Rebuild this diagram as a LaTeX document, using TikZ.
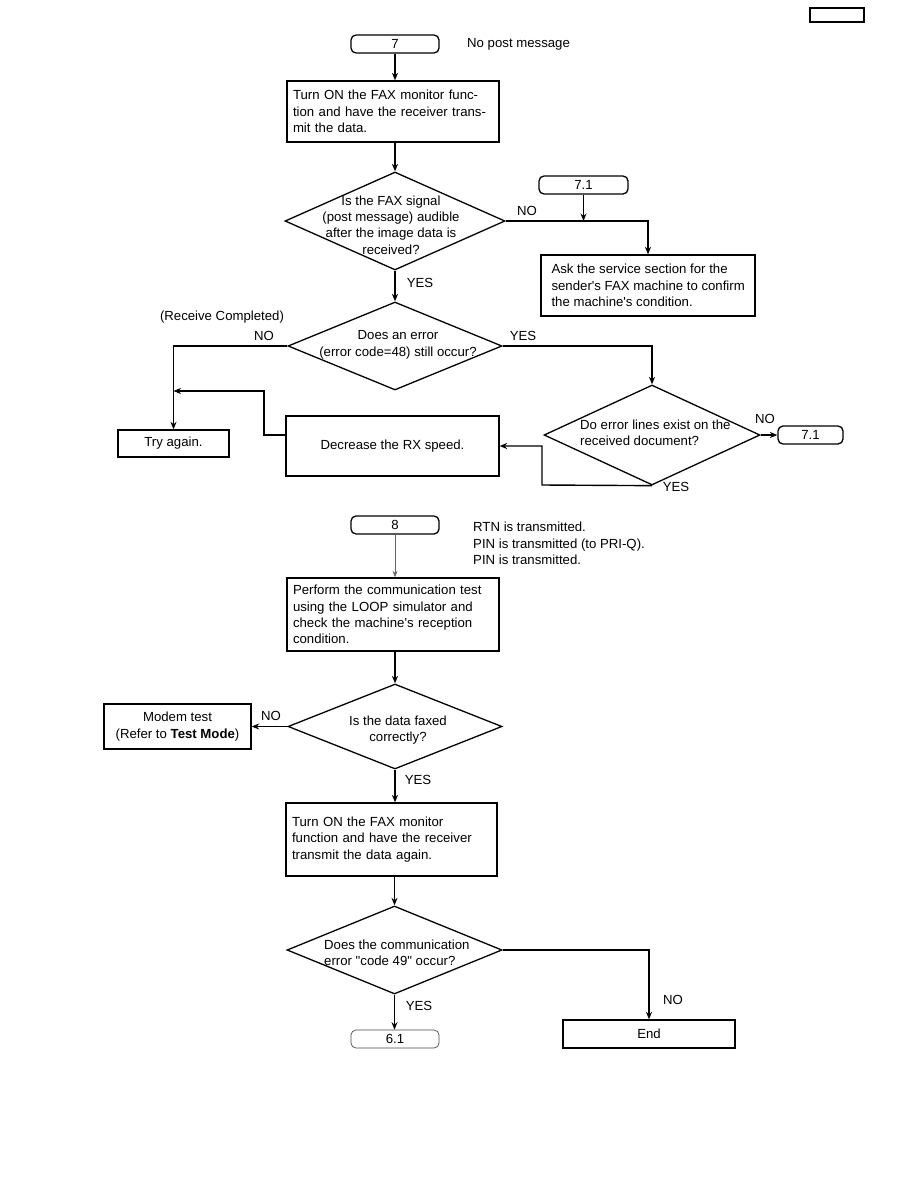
\documentclass[tikz,border=0pt]{standalone}
\usepackage{fontspec}
\setmainfont{Liberation Sans}[Ligatures=TeXOff]
\usetikzlibrary{shapes.geometric,arrows.meta}
\begin{document}
\begin{tikzpicture}[x=1pt,y=-1pt,
  every node/.style={font=\fontsize{13.2}{16.4}\selectfont, inner sep=0pt},
  lbox/.style={draw, line width=1.3pt, inner xsep=6pt, inner ysep=0pt, align=left},
  ebox/.style={draw, line width=1.3pt},
  cbox/.style={draw, line width=1.3pt, align=center},
  term/.style={draw, line width=1.3pt, rounded corners=5pt, minimum height=18pt, minimum width=88pt, align=center},
  dia/.style={draw, line width=1.3pt, diamond, inner sep=0pt},
  tx/.style={align=center},
  lbl/.style={},
  arr/.style={line width=1.4pt, -{Stealth[length=7.5pt,width=6pt]}},
]
\fill[white] (0,0) rectangle (918,1188);
\useasboundingbox (0,0) rectangle (918,1188);

% page box
\node[draw, line width=1.3pt, minimum width=54pt, minimum height=14pt] (pg) at (837,15) {};

% ---------- part 7 ----------
\node[term] (t7) at (395,44) {7};
\node[anchor=west] (np) at (467,44) {No post message};

\node[lbox, minimum height=61pt, text width=200pt] (b1) at (393,111.5)
  {Turn ON the FAX monitor func-\\tion and have the receiver trans-\\mit the data.};

\node[dia, minimum width=220pt, minimum height=98pt] (d1) at (395,221) {};
\node[tx] (d1t) at (391,225) {Is the FAX signal\\(post message) audible\\after the image data is\\received?};

\node[term, minimum width=89pt] (t71a) at (583.5,185) {7.1};
\node[ebox, minimum width=214pt, minimum height=61pt] (ask) at (648,285.5) {};
\node[align=left, anchor=west] (askt) at ([xshift=11pt]ask.west)
  {Ask the service section for the\\sender's FAX machine to confirm\\the machine's condition.};

\node[dia, minimum width=214pt, minimum height=88pt] (d2) at (395,346) {};
\node[tx] (d2t) at (398,345) {Does an error\\(error code=48) still occur?};

\node[cbox, minimum width=111pt, minimum height=27pt] (try) at (173.5,443.5) {Try again.};
\node[cbox, minimum width=213pt, minimum height=60pt] (dec) at (392.5,446) {Decrease the RX speed.};

\node[dia, minimum width=216pt, minimum height=100pt] (d3) at (652,435) {};
\node[tx, align=left, anchor=west] (d3t) at (580,433) {Do error lines exist on the\\received document?};
\node[term, minimum width=65pt] (t71b) at (810.5,435) {7.1};

\node[lbl] (l1) at (527,211) {NO};
\node[lbl] (l2) at (420,283) {YES};
\node[lbl] (l3) at (222,317) {(Receive Completed)};
\node[lbl] (l4) at (264,336) {NO};
\node[lbl] (l5) at (523,336) {YES};
\node[lbl] (l6) at (765,419) {NO};
\node[lbl] (l7) at (676,487) {YES};

\coordinate (c1) at (542,485);
\coordinate (j1) at (264,391);

\draw[arr] (t7.south) -- (t7.south |- b1.north);
\draw[arr] (b1.south -| d1.north) -- (d1.north);
\draw[arr] (d1.east) -| (ask.north);
\draw[arr] (t71a.south) -- (t71a.south |- d1.east);
\draw[arr] (d1.south) -- (d2.north);
\draw[arr] (d2.west) -| (try.north);
\draw[arr] (d2.east) -| (d3.north);
\draw[arr] (d3.east) -- (t71b.west);
\draw[arr] (d3.south) -- (c1) |- (dec.east);
\draw[arr] ([yshift=11pt]dec.west) -| (j1) -- (try.north |- j1);

% ---------- part 8 ----------
\node[term] (t8) at (395,525) {8};
\node[anchor=west, align=left] (rtn) at (473,543.5)
  {RTN is transmitted.\\PIN is transmitted (to PRI-Q).\\PIN is transmitted.};

\node[lbox, minimum height=73pt, text width=200pt] (b2) at (393,614.5)
  {Perform the communication test\\using the LOOP simulator and\\check the machine's reception\\condition.};

\node[dia, minimum width=214pt, minimum height=85pt] (d4) at (395,726.5) {};
\node[tx] (d4t) at (398,730) {Is the data faxed\\correctly?};
\node[cbox, minimum width=147pt, minimum height=45pt] (modem) at (177.5,726.5) 
  {Modem test\\(Refer to \textbf{Test Mode})};

\node[lbox, minimum height=73pt, text width=199pt] (b3) at (391.5,839.5)
  {Turn ON the FAX monitor\\function and have the receiver\\transmit the data again.};

\node[dia, minimum width=215pt, minimum height=88pt] (d5) at (394.5,950) {};
\node[tx, align=left, anchor=west] (d5t) at (324,953) {Does the communication\\error "code 49" occur?};

\node[term, line width=0.7pt, draw=black!70] (t61) at (395,1039) {6.1};
\node[cbox, minimum width=172pt, minimum height=28pt] (end) at (649,1034) {End};

\node[lbl] (l8) at (271,716) {NO};
\node[lbl] (l9) at (418,780) {YES};
\node[lbl] (l10) at (419,1006) {YES};
\node[lbl] (l11) at (673,1000) {NO};

\draw[line width=0.7pt, draw=black!60, -{Stealth[length=6.5pt,width=5pt]}] (t8.south) -- (t8.south |- b2.north);
\draw[arr] (b2.south -| d4.north) -- (d4.north);
\draw[arr] (d4.west) -- (modem.east);
\draw[arr] (d4.south) -- (b3.north -| d4.south);
\draw[arr] (b3.south -| d5.north) -- (d5.north);
\draw[arr] (d5.south) -- (t61.north -| d5.south);
\draw[arr] (d5.east) -| (end.north);
\end{tikzpicture}
\end{document}
